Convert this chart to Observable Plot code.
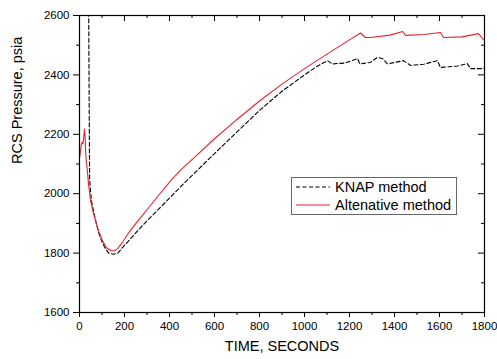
<!DOCTYPE html>
<html>
<head>
<meta charset="utf-8">
<script src="https://cdn.jsdelivr.net/npm/d3@7"></script>
<script src="https://cdn.jsdelivr.net/npm/@observablehq/plot@0.6"></script>
<style>
  body { margin: 0; background: #fff; }
  #wrap { position: relative; width: 497px; height: 359px; font-family: "Liberation Sans", Arial, sans-serif; }
  #legend { position: absolute; left: 291px; top: 177px; width: 164px; height: 36px; border: 1px solid #666; background: #fff; font-size: 14.5px; color: #000; }
  #legend .row { position: absolute; left: 4px; height: 18px; display: flex; align-items: center; }
  #legend svg { width: 34px; height: 6px; margin-right: 5px; }
</style>
</head>
<body>
<div id="wrap"></div>
<script>
// Data (time in seconds, pressure in psia)
const knapT = [40, 41, 43, 45, 49, 53, 60, 70, 85, 100, 115, 130, 150, 170, 200, 280, 400, 471, 600, 700, 804, 900, 1000, 1050, 1102, 1124, 1180, 1236, 1246, 1293, 1324, 1347, 1369, 1440, 1471, 1530, 1591, 1604, 1680, 1724, 1738, 1800];
const knapP = [2720, 2600, 2300, 2050, 2010, 1977, 1950, 1915, 1870, 1838, 1815, 1800, 1796, 1800, 1826, 1893, 1985, 2040, 2135, 2208, 2283, 2345, 2400, 2426, 2448, 2437, 2440, 2455, 2437, 2442, 2459, 2455, 2437, 2448, 2432, 2436, 2448, 2425, 2430, 2438, 2421, 2421];

const altT = [0, 4, 8, 12, 15, 19, 22, 25, 27, 30, 34, 40, 49, 60, 80, 100, 120, 140, 155, 170, 190, 220, 250, 280, 300, 350, 404, 450, 500, 600, 700, 800, 900, 1000, 1100, 1200, 1249, 1271, 1293, 1380, 1436, 1449, 1530, 1604, 1618, 1700, 1773, 1796, 1800];
const altP = [2120, 2140, 2165, 2173, 2168, 2190, 2218, 2190, 2145, 2110, 2085, 2034, 1977, 1940, 1885, 1845, 1818, 1808, 1808, 1815, 1835, 1870, 1899, 1927, 1946, 1993, 2042, 2080, 2115, 2185, 2250, 2312, 2369, 2421, 2470, 2518, 2541, 2526, 2526, 2534, 2546, 2533, 2536, 2543, 2526, 2528, 2539, 2519, 2518];

const xMajor = d3.range(0, 1801, 200);
const xMinor = d3.range(100, 1800, 200);
const yMajor = d3.range(1600, 2601, 200);
const yMinor = d3.range(1700, 2600, 200);
const seriesNames = ["KNAP method", "Altenative method"];
const seriesColors = ["#000000", "#e8232a"];

const knap = knapT.map((t, i) => ({t, p: knapP[i]}));
const alt = altT.map((t, i) => ({t, p: altP[i]}));

const W = 497, H = 359, mL = 79, mR = 13, mT = 15, mB = 47;
const fw = W - mL - mR, fh = H - mT - mB;

const chart = Plot.plot({
  width: W, height: H,
  marginLeft: mL, marginRight: mR, marginTop: mT, marginBottom: mB,
  style: {fontFamily: "Liberation Sans, Arial, sans-serif", fontSize: "11.5px", color: "#000", background: "#fff"},
  x: {domain: [0, 1800]},
  y: {domain: [1600, 2600]},
  marks: [
    Plot.axisX({ticks: xMajor, tickSize: 5, tickPadding: 4, tickFormat: d => String(d), label: null}),
    Plot.axisX({ticks: xMinor, tickSize: 3, tickFormat: () => "", label: null}),
    Plot.axisY({ticks: yMajor, tickSize: 6, tickPadding: 4, tickFormat: d => String(d), label: null}),
    Plot.axisY({ticks: yMinor, tickSize: 3, tickFormat: () => "", label: null}),
    // mirrored inward ticks on top and right
    Plot.tickX(xMajor, {x: d => d, insetBottom: fh - 6, stroke: "#000"}),
    Plot.tickX(xMinor, {x: d => d, insetBottom: fh - 3, stroke: "#000"}),
    Plot.tickY(yMajor, {y: d => d, insetLeft: fw - 6, stroke: "#000"}),
    Plot.tickY(yMinor, {y: d => d, insetLeft: fw - 3, stroke: "#000"}),
    Plot.line(knap, {x: "t", y: "p", stroke: seriesColors[0], strokeWidth: 1.1, strokeDasharray: "4,2.5", clip: true}),
    Plot.line(alt, {x: "t", y: "p", stroke: seriesColors[1], strokeWidth: 1.1, clip: true}),
    Plot.frame({stroke: "#000", strokeWidth: 1.2}),
    Plot.text(["TIME, SECONDS"], {frameAnchor: "bottom", dy: 38, fontSize: 14.5, text: d => d}),
    Plot.text(["RCS Pressure, psia"], {frameAnchor: "left", dx: -62, rotate: -90, fontSize: 14.5, text: d => d})
  ]
});

const wrap = document.getElementById("wrap");
wrap.appendChild(chart);

const legend = document.createElement("div");
legend.id = "legend";
seriesNames.forEach((name, i) => {
  const row = document.createElement("div");
  row.className = "row";
  row.style.top = (i * 18) + "px";
  const dash = i === 0 ? 'stroke-dasharray="4,2.5"' : '';
  row.innerHTML = `<svg viewBox="0 0 34 6"><line x1="0" y1="3" x2="34" y2="3" stroke="${seriesColors[i]}" stroke-width="1.2" ${dash}/></svg><span>${name}</span>`;
  legend.appendChild(row);
});
wrap.appendChild(legend);
</script>
</body>
</html>
